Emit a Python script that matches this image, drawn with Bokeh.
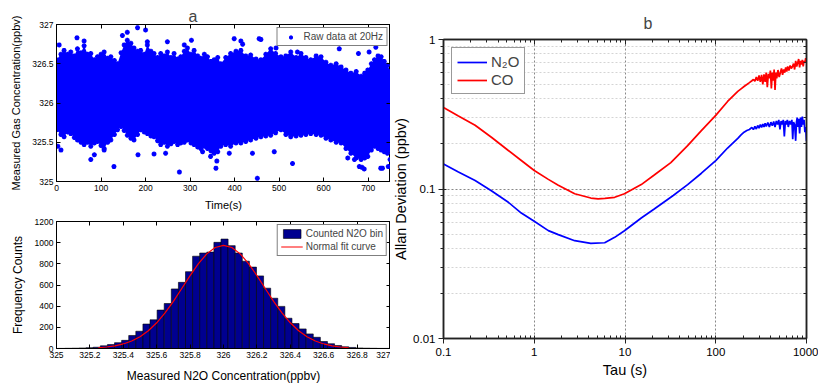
import numpy as np
from bokeh.plotting import figure
from bokeh.models import (Legend, LegendItem, LinearAxis, LogAxis, FixedTicker,
                          CustomJSTickFormatter, Range1d)
from bokeh.layouts import row, column
from bokeh.embed import file_html
from bokeh.resources import INLINE

FONT = "Liberation Sans"

# ---------------- panel a (top): raw data at 20 Hz ----------------
env_time = [0, 10, 17, 25, 32, 40, 47, 55, 62, 70, 77, 85, 92, 100, 107, 115, 122, 130, 137, 145,
            152, 159, 167, 174, 182, 189, 197, 204, 212, 219, 227, 234, 242, 249, 257, 264, 272, 279, 287, 294,
            302, 309, 317, 324, 332, 339, 347, 354, 362, 369, 380, 391, 403, 414, 425, 436, 448, 459, 470, 481,
            492, 504, 515, 526, 538, 549, 560, 571, 583, 594, 605, 616, 628, 639, 650, 661, 673, 684, 692, 699,
            707, 714, 722, 729, 736, 743, 750]
env_upper = [326.55, 326.62, 326.67, 326.62, 326.65, 326.60, 326.69, 326.64, 326.73, 326.62,
             326.63, 326.55, 326.59, 326.62, 326.65, 326.57, 326.59, 326.54, 326.50, 326.64,
             326.74, 326.80, 326.76, 326.70, 326.66, 326.67, 326.62, 326.74, 326.66, 326.63,
             326.58, 326.63, 326.60, 326.65, 326.58, 326.63, 326.56, 326.59, 326.66, 326.70,
             326.62, 326.67, 326.60, 326.57, 326.62, 326.59, 326.53, 326.55, 326.58, 326.50,
             326.58, 326.63, 326.66, 326.67, 326.60, 326.61, 326.56, 326.55, 326.62, 326.69,
             326.63, 326.59, 326.60, 326.65, 326.58, 326.63, 326.58, 326.55, 326.60, 326.59,
             326.52, 326.48, 326.50, 326.46, 326.42, 326.38, 326.40, 326.34, 326.38, 326.42,
             326.50, 326.55, 326.60, 326.59, 326.53, 326.48, 326.40]
env_lower = [325.66, 325.60, 325.57, 325.63, 325.61, 325.56, 325.53, 325.50, 325.47, 325.50,
             325.45, 325.49, 325.51, 325.46, 325.42, 325.50, 325.53, 325.60, 325.66, 325.70,
             325.65, 325.59, 325.55, 325.53, 325.60, 325.66, 325.63, 325.61, 325.58, 325.57,
             325.52, 325.47, 325.50, 325.45, 325.48, 325.51, 325.47, 325.49, 325.50, 325.53,
             325.49, 325.47, 325.44, 325.42, 325.45, 325.42, 325.39, 325.36, 325.38, 325.45,
             325.47, 325.45, 325.49, 325.49, 325.51, 325.53, 325.55, 325.57, 325.58, 325.59,
             325.62, 325.66, 325.60, 325.57, 325.58, 325.59, 325.60, 325.61, 325.60, 325.59,
             325.55, 325.53, 325.50, 325.49, 325.42, 325.36, 325.30, 325.28, 325.30, 325.32,
             325.40, 325.45, 325.42, 325.40, 325.38, 325.36, 325.40]
outlier_time = [6, 10, 3, 46, 62, 77, 85, 107, 129, 148, 159, 182, 200, 183, 204, 219, 249, 245, 276, 287,
                303, 328, 346, 358, 360, 388, 399, 414, 418, 440, 451, 455, 459, 489, 493, 530, 541, 635, 654, 669,
                678, 680, 686, 691, 702, 717, 728, 732, 745, 749]
outlier_value = [326.74, 325.40, 325.45, 326.83, 326.79, 325.28, 325.34, 325.40, 325.19, 326.86,
                 326.90, 326.96, 326.93, 325.34, 326.78, 325.35, 326.78, 325.36, 325.12, 326.74,
                 326.80, 325.38, 325.32, 325.17, 325.26, 325.36, 326.82, 326.79, 326.75, 325.36,
                 325.04, 326.82, 326.81, 325.38, 326.70, 325.23, 326.65, 326.69, 325.30, 325.28,
                 326.63, 325.19, 325.18, 325.16, 326.65, 326.71, 325.17, 325.17, 325.19, 325.28]
time_ticks = [0, 100, 200, 300, 400, 500, 600, 700]
conc_ticks = [325, 325.5, 326, 326.5, 327]

# ---------------- panel a (bottom): histogram ----------------
bin_first_left = 325.0075
bin_width = 0.0425
bin_counts = [1, 2, 3, 5, 8, 12, 25, 37, 55, 77, 123, 163, 231, 271, 363, 425, 563, 625, 726, 872,
              902, 911, 1003, 1034, 972, 902, 825, 769, 686, 570, 475, 398, 286, 236, 185, 138, 106, 66,
              45, 28, 16, 10, 5, 3, 2, 1, 1]
fit_x = [325.25, 325.30, 325.35, 325.40, 325.45, 325.50, 325.55, 325.60, 325.65, 325.70, 325.75,
         325.80, 325.85, 325.90, 325.95, 326.00, 326.05, 326.10, 326.15, 326.20, 326.25, 326.30,
         326.35, 326.40, 326.45, 326.50, 326.55, 326.60, 326.65, 326.70, 326.75]
fit_y = [7, 14, 25, 43, 71, 111, 168, 243, 337, 446, 567, 689, 802, 894, 954, 975, 954, 894, 802,
         689, 567, 446, 337, 243, 168, 111, 71, 43, 25, 14, 7]
hist_x_ticks = [325, 325.2, 325.4, 325.6, 325.8, 326, 326.2, 326.4, 326.6, 326.8, 327]
hist_y_ticks = [0, 200, 400, 600, 800, 1000, 1200]

# ---------------- panel b: Allan deviation ----------------
tau_n2o = [0.1, 0.146, 0.223, 0.34, 0.518, 0.72, 1.0, 1.43, 1.84, 2.79, 4.2, 5.97, 7.7, 9.86, 15.1, 21,
           34, 49, 69, 100, 135, 175, 190, 205, 220, 235, 250, 260, 270, 280, 290, 300, 310, 320, 330,
           340, 350, 360, 375, 390, 405, 420, 435, 450, 465, 480, 495, 510, 525, 540, 555, 570, 585, 600,
           615, 630, 650, 670, 690, 705, 720, 740, 760, 775, 790, 805, 820, 840, 860, 880, 900, 920, 940,
           960, 980, 1000]
adev_n2o = [0.147, 0.130, 0.114, 0.097, 0.0815, 0.069, 0.0608, 0.0527, 0.0495, 0.0451, 0.0433, 0.0437,
            0.0475, 0.0526, 0.064, 0.0735, 0.0905, 0.107, 0.127, 0.155, 0.188, 0.218, 0.23, 0.24, 0.246,
            0.25, 0.258, 0.25, 0.262, 0.252, 0.266, 0.255, 0.27, 0.258, 0.272, 0.26, 0.275, 0.262, 0.278,
            0.26, 0.28, 0.265, 0.283, 0.26, 0.285, 0.27, 0.29, 0.25, 0.285, 0.27, 0.29, 0.225, 0.285,
            0.27, 0.29, 0.26, 0.285, 0.27, 0.29, 0.215, 0.28, 0.27, 0.21, 0.28, 0.3, 0.26, 0.295, 0.235,
            0.3, 0.26, 0.305, 0.27, 0.29, 0.24, 0.26, 0.21]
tau_co = [0.1, 0.146, 0.223, 0.34, 0.518, 0.72, 1.0, 1.43, 1.84, 2.79, 4.2, 5.05, 6.0, 7.7, 9.86, 15.1,
          21, 32, 49, 69, 100, 135, 175, 190, 205, 220, 235, 250, 260, 270, 280, 290, 300, 310, 320, 330,
          340, 350, 360, 370, 380, 390, 400, 410, 420, 430, 440, 450, 460, 470, 485, 500, 515, 530, 545,
          560, 575, 590, 605, 620, 640, 660, 680, 700, 720, 740, 760, 780, 800, 820, 840, 860, 880, 900,
          920, 940, 960, 980, 1000]
adev_co = [0.351, 0.308, 0.267, 0.221, 0.181, 0.155, 0.133, 0.116, 0.106, 0.093, 0.087, 0.086, 0.0865,
           0.088, 0.093, 0.107, 0.124, 0.150, 0.195, 0.245, 0.311, 0.385, 0.45, 0.468, 0.485, 0.50, 0.515,
           0.53, 0.54, 0.525, 0.56, 0.53, 0.575, 0.52, 0.58, 0.50, 0.585, 0.52, 0.60, 0.48, 0.59, 0.55,
           0.62, 0.47, 0.60, 0.53, 0.63, 0.46, 0.60, 0.55, 0.625, 0.56, 0.60, 0.64, 0.58, 0.63, 0.60,
           0.65, 0.61, 0.66, 0.62, 0.67, 0.64, 0.66, 0.69, 0.63, 0.72, 0.66, 0.70, 0.74, 0.65, 0.72,
           0.68, 0.73, 0.66, 0.72, 0.70, 0.75, 0.71]
tau_ticks = [0.1, 1, 10, 100, 1000]
adev_ticks = [0.01, 0.1, 1]

TRIM = CustomJSTickFormatter(code="return (Math.round(tick*1000)/1000).toString();")


def base_style(p, tick_size, label_size):
    p.background_fill_color = "white"
    p.border_fill_color = "white"
    p.outline_line_color = "black"
    p.xgrid.grid_line_color = None
    p.ygrid.grid_line_color = None
    for ax in p.xaxis + p.yaxis:
        ax.major_tick_in = 4
        ax.major_tick_out = 0
        ax.minor_tick_line_color = None
        ax.axis_line_color = "black"
        ax.major_tick_line_color = "black"
        ax.major_label_text_font = FONT
        ax.major_label_text_font_size = tick_size
        ax.major_label_text_color = "black"
        ax.axis_label_text_font = FONT
        ax.axis_label_text_font_size = label_size
        ax.axis_label_text_font_style = "normal"
        ax.axis_label_text_color = "black"
        ax.major_label_standoff = 3


def mirror_axes(p, xticker, yticker, log=False, color="black"):
    Ax = LogAxis if log else LinearAxis
    for loc, tk in (("above", xticker), ("right", yticker)):
        ax = Ax(ticker=tk, formatter=CustomJSTickFormatter(code="return '';"),
                major_label_text_font_size="1px", major_label_text_color=None,
                major_label_standoff=0, major_tick_in=4, major_tick_out=0,
                axis_line_color=color, major_tick_line_color=color)
        if log:
            ax.minor_tick_in = 3
            ax.minor_tick_out = 0
            ax.minor_tick_line_color = color
            ax.major_tick_in = 5
            ax.axis_line_width = 1.5
        else:
            ax.minor_tick_line_color = None
        p.add_layout(ax, loc)


# ---------- top-left ----------
p1 = figure(width=390, height=213, output_backend="svg", toolbar_location=None,
            x_range=Range1d(0, 750), y_range=Range1d(325, 327),
            min_border_left=56, min_border_right=0, min_border_top=24, min_border_bottom=31)
base_style(p1, "8.5px", "11px")
p1.title.text = "a"
p1.title.text_font = FONT
p1.title.text_font_size = "16px"
p1.title.text_font_style = "normal"
p1.title.align = "left"
p1.title.offset = 132
p1.title.standoff = 0
p1.xaxis.ticker = FixedTicker(ticks=time_ticks)
p1.yaxis.ticker = FixedTicker(ticks=conc_ticks)
p1.yaxis.formatter = TRIM
p1.xaxis.axis_label = "Time(s)"
p1.yaxis.axis_label = "Measured Gas Concentration(ppbv)"
p1.xaxis.axis_label_standoff = 5
p1.yaxis.axis_label_standoff = 7
mirror_axes(p1, FixedTicker(ticks=time_ticks), FixedTicker(ticks=conc_ticks))
p1.varea(x=env_time, y1=env_lower, y2=env_upper, fill_color="blue")
p1.scatter(x=env_time, y=env_upper, marker="asterisk", size=5, line_color="blue", line_width=1.5)
p1.scatter(x=env_time, y=env_lower, marker="asterisk", size=5, line_color="blue", line_width=1.5)
r_raw = p1.scatter(x=outlier_time, y=outlier_value, marker="asterisk", size=5, line_color="blue",
                   line_width=1.5)
leg1 = Legend(items=[LegendItem(label="Raw data at 20Hz", renderers=[r_raw])], location="top_right",
              label_text_font=FONT, label_text_font_size="10px", glyph_width=20, glyph_height=10,
              label_height=10, label_standoff=3, padding=3, spacing=0, margin=3,
              border_line_color="black", border_line_width=1)
p1.add_layout(leg1)

# ---------- bottom-left ----------
p2 = figure(width=390, height=172, output_backend="svg", toolbar_location=None,
            x_range=Range1d(325, 327), y_range=Range1d(0, 1200),
            min_border_left=56, min_border_right=0, min_border_top=8, min_border_bottom=34)
base_style(p2, "8.5px", "12px")
p2.xaxis.ticker = FixedTicker(ticks=hist_x_ticks)
p2.yaxis.ticker = FixedTicker(ticks=hist_y_ticks)
p2.xaxis.formatter = TRIM
p2.xaxis.axis_label = "Measured N2O Concentration(ppbv)"
p2.yaxis.axis_label = "Frequency Counts"
p2.xaxis.axis_label_standoff = 8
p2.yaxis.axis_label_standoff = 7
mirror_axes(p2, FixedTicker(ticks=hist_x_ticks), FixedTicker(ticks=hist_y_ticks))
lefts = [bin_first_left + i * bin_width for i in range(len(bin_counts))]
rights = [l + bin_width for l in lefts]
r_bar = p2.quad(left=lefts, right=rights, bottom=0, top=bin_counts, fill_color="#000090",
                line_color="black", line_width=0.6)
r_fit = p2.line(x=fit_x, y=fit_y, line_color="red", line_width=1.2)
leg2 = Legend(items=[LegendItem(label="Counted N2O bin", renderers=[r_bar]),
                     LegendItem(label="Normal fit curve", renderers=[r_fit])],
              location="top_right", label_text_font=FONT, label_text_font_size="10px",
              glyph_width=22, glyph_height=11, label_height=11, label_standoff=3, padding=3,
              spacing=2, margin=3, border_line_color="black", border_line_width=1)
p2.add_layout(leg2)

# ---------- right ----------
xminor = [m * 10.0 ** e for e in range(-1, 3) for m in range(2, 10)]
yminor = [m * 10.0 ** e for e in range(-2, 0) for m in range(2, 10)]
p3 = figure(width=428, height=385, output_backend="svg", toolbar_location=None,
            x_axis_type="log", y_axis_type="log",
            x_range=Range1d(0.1, 1000), y_range=Range1d(0.01, 1),
            min_border_left=52, min_border_right=12, min_border_top=39, min_border_bottom=47)
p3.background_fill_color = "white"
p3.border_fill_color = "white"
p3.outline_line_color = "#222222"
p3.outline_line_width = 1.5
p3.title.text = "b"
p3.title.text_font = FONT
p3.title.text_font_size = "16px"
p3.title.text_font_style = "normal"
p3.title.align = "left"
p3.title.offset = 200
p3.title.standoff = 15
xt = FixedTicker(ticks=tau_ticks, minor_ticks=xminor)
yt = FixedTicker(ticks=adev_ticks, minor_ticks=yminor)
p3.xaxis.ticker = xt
p3.yaxis.ticker = yt
for ax in p3.xaxis + p3.yaxis:
    ax.formatter = CustomJSTickFormatter(code="return tick.toString();")
    ax.major_tick_in = 3
    ax.major_tick_out = 5
    ax.axis_line_color = "#222222"
    ax.axis_line_width = 1.5
    ax.major_tick_line_color = "#222222"
    ax.minor_tick_line_color = "#222222"
    ax.major_label_text_font = FONT
    ax.major_label_text_font_size = "11.5px"
    ax.major_label_text_color = "black"
    ax.axis_label_text_font = FONT
    ax.axis_label_text_font_size = "14.5px"
    ax.axis_label_text_font_style = "normal"
    ax.axis_label_text_color = "black"
p3.xaxis.minor_tick_in = 3
p3.xaxis.minor_tick_out = 0
p3.yaxis.minor_tick_in = 0
p3.yaxis.minor_tick_out = 3
p3.xaxis.major_label_standoff = 4
p3.yaxis.major_label_standoff = 3
p3.xaxis.axis_label = "Tau (s)"
p3.yaxis.axis_label = "Allan Deviation (ppbv)"
p3.xaxis.axis_label_standoff = 3
p3.yaxis.axis_label_standoff = 1
mirror_axes(p3, FixedTicker(ticks=tau_ticks, minor_ticks=xminor),
            FixedTicker(ticks=adev_ticks, minor_ticks=yminor), log=True, color="#222222")
p3.xgrid.grid_line_color = "#888888"
p3.xgrid.grid_line_dash = "2 2"
p3.xgrid.grid_line_width = 1
p3.ygrid.grid_line_color = "#888888"
p3.ygrid.grid_line_dash = "2 2"
p3.ygrid.minor_grid_line_color = "#d4d4d4"
p3.ygrid.minor_grid_line_dash = "2 2"
r_n2o = p3.line(x=tau_n2o, y=adev_n2o, line_color="blue", line_width=1.7)
r_co = p3.line(x=tau_co, y=adev_co, line_color="red", line_width=1.7)
leg3 = Legend(items=[LegendItem(label="N\u2082O", renderers=[r_n2o]),
                     LegendItem(label="CO", renderers=[r_co])],
              location="top_left", label_text_font=FONT, label_text_font_size="15px",
              glyph_width=30, glyph_height=16, label_height=16, label_standoff=4, padding=5,
              spacing=1, margin=8, border_line_color="#333333", border_line_width=1.5)
p3.add_layout(leg3)

layout = row(column(p1, p2), p3)
open("out.html", "w").write(file_html(layout, INLINE, "chart"))
